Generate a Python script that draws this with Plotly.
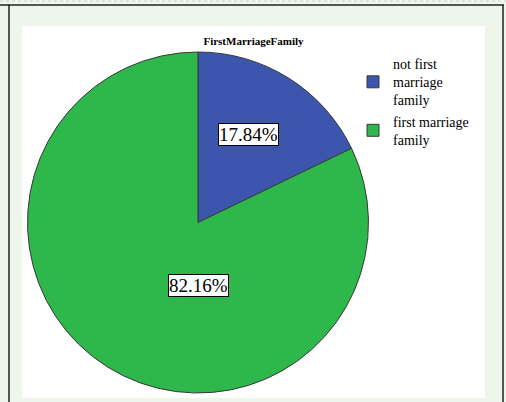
import plotly.graph_objects as go

# ---- data ----
categories = ["not first<br>marriage<br>family", "first marriage<br>family"]
values = [17.84, 82.16]
colors = ["#3d56ad", "#2eb84c"]
title_text = "FirstMarriageFamily"

W, H = 506, 402
SERIF = "Liberation Serif, Times New Roman, serif"

def px_x(x):
    return x / W

def px_y(y):
    return (H - y) / H

# pie geometry (pixels)
cx, cy, R = 198, 222.5, 170.5

total = sum(values)
pct_text = [f"{v / total * 100:.2f}%" for v in values]

fig = go.Figure()
fig.add_trace(go.Pie(
    labels=categories,
    values=values,
    sort=False,
    direction="clockwise",
    rotation=0,
    marker=dict(colors=colors, line=dict(color="#3a3a3a", width=1)),
    textinfo="none",
    hoverinfo="label+percent",
    domain=dict(x=[px_x(cx - R), px_x(cx + R)], y=[px_y(cy + R), px_y(cy - R)]),
))

# percentage label positions (pixels)
label_pos = [(248.5, 134), (198, 285)]
for (lx, ly), t in zip(label_pos, pct_text):
    fig.add_annotation(
        x=px_x(lx), y=px_y(ly), xref="paper", yref="paper",
        text=t, showarrow=False,
        font=dict(family=SERIF, size=19, color="#000000"),
        bgcolor="#ffffff", bordercolor="#000000", borderwidth=1, borderpad=0,
        xanchor="center", yanchor="middle",
    )

shapes = [
    # white chart area
    dict(type="rect", xref="paper", yref="paper",
         x0=px_x(22), x1=px_x(485), y0=px_y(398), y1=px_y(26),
         fillcolor="#ffffff", line=dict(width=0), layer="below"),
    # frame lines
    dict(type="line", xref="paper", yref="paper",
         x0=px_x(0), x1=px_x(504), y0=px_y(5), y1=px_y(5),
         line=dict(color="#222222", width=1.5)),
    dict(type="line", xref="paper", yref="paper",
         x0=px_x(9), x1=px_x(9), y0=px_y(5), y1=px_y(402),
         line=dict(color="#222222", width=1.5)),
    dict(type="line", xref="paper", yref="paper",
         x0=px_x(503), x1=px_x(503), y0=px_y(5), y1=px_y(402),
         line=dict(color="#222222", width=1.5)),
    dict(type="line", xref="paper", yref="paper",
         x0=px_x(0), x1=px_x(506), y0=px_y(1), y1=px_y(1),
         line=dict(color="#c8d6c4", width=1, dash="dot")),
]

fig.update_layout(
    width=W, height=H,
    margin=dict(l=0, r=0, t=0, b=0),
    paper_bgcolor="#eef5eb",
    plot_bgcolor="#eef5eb",
    shapes=shapes,
    title=dict(text="<b>" + title_text + "</b>", x=px_x(253.5), y=px_y(41),
               xanchor="center", yanchor="middle",
               font=dict(family=SERIF, size=11, color="#000000")),
    showlegend=True,
    legend=dict(
        x=px_x(353), y=px_y(48), xanchor="left", yanchor="top",
        font=dict(family=SERIF, size=14, color="#000000"),
        bgcolor="rgba(0,0,0,0)", tracegroupgap=0, itemclick=False,
    ),
)

fig.write_html("out.html", config={"displayModeBar": False},
               post_script="document.body.style.margin='0';")
